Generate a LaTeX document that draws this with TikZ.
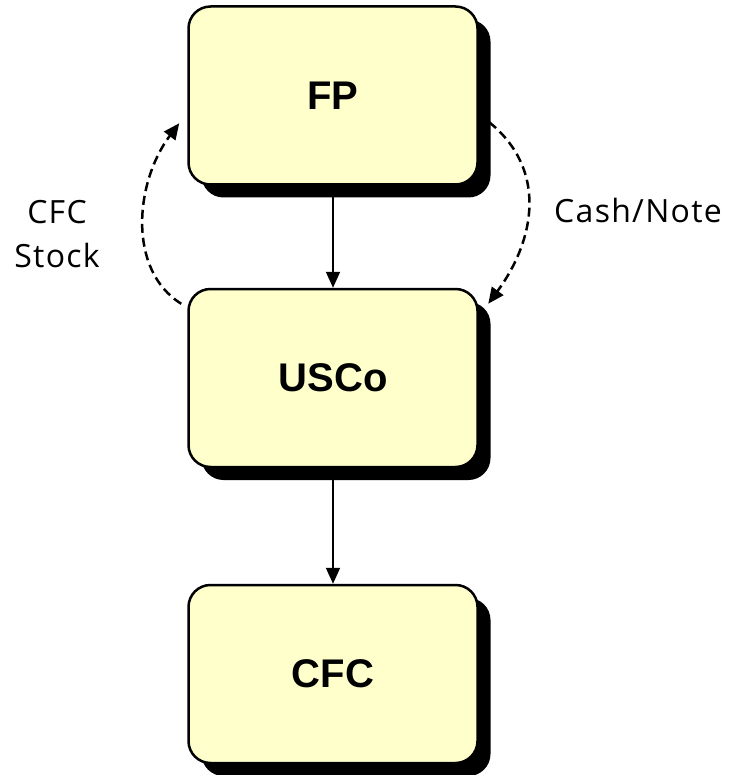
\documentclass[tikz,border=0pt]{standalone}
\usepackage{fontspec}
\usetikzlibrary{arrows.meta,shadows,calc}
\newfontfamily\boxfont{Liberation Sans}
\newfontfamily\labelfont[LetterSpace=4]{Open Sans}
\definecolor{boxfill}{HTML}{FFFFCC}
\tikzset{
  entity/.style={draw=black, line width=2.5pt, fill=boxfill,
    rounded corners=22pt, minimum width=289pt, minimum height=178pt,
    inner sep=0pt,
    drop shadow={shadow xshift=13pt, shadow yshift=-13pt, fill=black, opacity=1},
    font=\boxfont\bfseries\fontsize{40}{48}\selectfont},
  flow/.style={line width=2pt, -{Triangle[length=16pt,width=14pt]}},
  transfer/.style={line width=2.5pt, dash pattern=on 9pt off 5pt,
    -{Triangle[length=16pt,width=14pt]}},
  tag/.style={inner sep=0pt, align=center,
    font=\labelfont\fontsize{32}{44}\selectfont}
}
\begin{document}
\begin{tikzpicture}[x=1pt, y=-1pt]
  \useasboundingbox (0,0) rectangle (729,775);

  % entities
  \node[entity] (FP)   at (333,95.5) {FP};
  \node[entity] (USCo) at (333,378)  {USCo};
  \node[entity] (CFC)  at (333,674)  {CFC};

  % ownership chain
  \draw[flow] (FP.south) -- (USCo.north);
  \draw[flow] (USCo.south) -- (CFC.north);

  % exchange between FP and USCo
  \coordinate (sL) at ([shift={(-6,16)}]USCo.north west);
  \coordinate (eL) at ([shift={(-8,118)}]FP.north west);
  \coordinate (sR) at ([shift={(10.5,117)}]FP.north east);
  \coordinate (eR) at ([shift={(9.5,16)}]USCo.north east);
  \draw[transfer] (sL) .. controls (127,270) and (135,182) .. (eL);
  \draw[transfer] (sR) .. controls (548,170) and (535,240) .. (eR);

  % labels
  \node[tag] (stock) at (57,234) {CFC\\Stock};
  \node[tag, anchor=base] (cash) at (638,223) {Cash/Note};
\end{tikzpicture}
\end{document}
